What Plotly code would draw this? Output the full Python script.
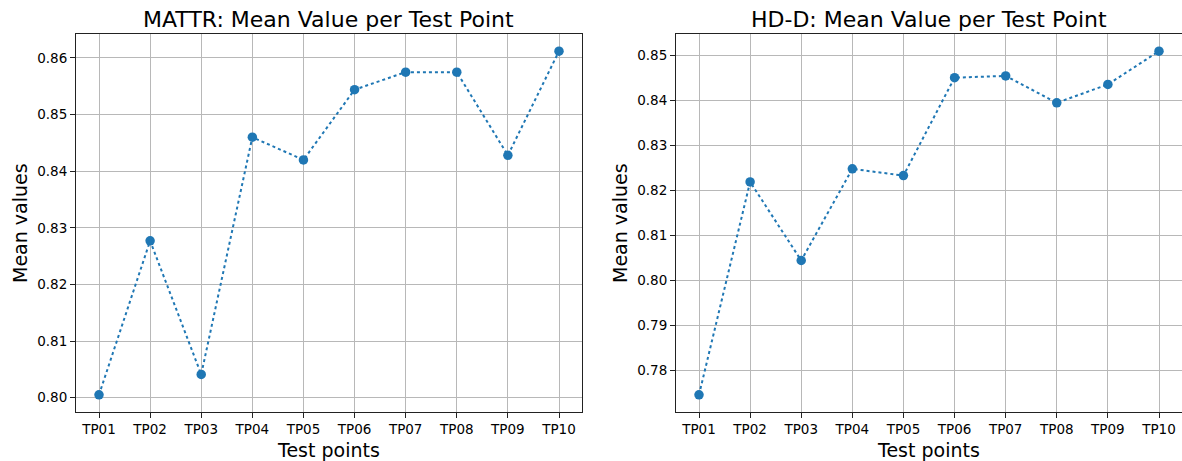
import plotly.graph_objects as go

test_points = ["TP01", "TP02", "TP03", "TP04", "TP05", "TP06", "TP07", "TP08", "TP09", "TP10"]
mattr_values = [0.8005, 0.8277, 0.8041, 0.8460, 0.8420, 0.8544, 0.8575, 0.8575, 0.8428, 0.8612]
hdd_values = [0.7745, 0.8219, 0.8044, 0.8248, 0.8233, 0.8451, 0.8455, 0.8395, 0.8436, 0.8510]
mattr_ticks = [0.80, 0.81, 0.82, 0.83, 0.84, 0.85, 0.86]
hdd_ticks = [0.78, 0.79, 0.80, 0.81, 0.82, 0.83, 0.84, 0.85]

W, H = 1182, 461
color = "#1f77b4"
font = "DejaVu Sans, Verdana, sans-serif"

def rng(vals):
    lo, hi = min(vals), max(vals)
    m = (hi - lo) * 0.05
    return [lo - m, hi + m]

fig = go.Figure()
for i, vals in enumerate([mattr_values, hdd_values]):
    fig.add_trace(go.Scatter(
        x=test_points, y=vals, mode="lines+markers",
        line=dict(color=color, width=2, dash="dot"),
        marker=dict(color=color, size=9.5),
        xaxis="x" if i == 0 else "x2", yaxis="y" if i == 0 else "y2",
        showlegend=False, hoverinfo="x+y",
    ))

ydom = [(H - 412) / H, (H - 34) / H]
xdom1 = [76 / W, 582 / W]
xdom2 = [676 / W, 1.0]

axis_common = dict(
    showline=True, mirror=True, linecolor="#222", linewidth=1,
    showgrid=True, gridcolor="#b8b8b8", gridwidth=1,
    ticks="outside", ticklen=5, tickcolor="#222", tickwidth=1,
    tickfont=dict(family=font, size=13.5, color="black"), zeroline=False,
)

fig.update_layout(
    width=W, height=H, margin=dict(l=0, r=0, t=0, b=0),
    paper_bgcolor="white", plot_bgcolor="white",
    font=dict(family=font, color="black"),
    xaxis=dict(domain=xdom1, anchor="y", type="category", range=[-0.45, 9.45], **axis_common),
    yaxis=dict(domain=ydom, anchor="x", range=rng(mattr_values), tickvals=mattr_ticks,
               tickformat=".2f", **axis_common),
    xaxis2=dict(domain=xdom2, anchor="y2", type="category", range=[-0.45, 9.45], **axis_common),
    yaxis2=dict(domain=ydom, anchor="x2", range=rng(hdd_values), tickvals=hdd_ticks,
                tickformat=".2f", **axis_common),
)

titles = ["MATTR: Mean Value per Test Point", "HD-D: Mean Value per Test Point"]
ylabel_x = [20, 620]
for dom, t, yx in zip([xdom1, xdom2], titles, ylabel_x):
    cx = (dom[0] + dom[1]) / 2
    fig.add_annotation(text=t, x=cx, y=(H - 19) / H, xref="paper", yref="paper",
                       xanchor="center", yanchor="middle", showarrow=False,
                       font=dict(family=font, size=22, color="black"))
    fig.add_annotation(text="Test points", x=cx, y=(H - 450) / H, xref="paper", yref="paper",
                       xanchor="center", yanchor="middle", showarrow=False,
                       font=dict(family=font, size=19, color="black"))
    fig.add_annotation(text="Mean values", x=yx / W, y=(H - 223) / H, xref="paper", yref="paper",
                       xanchor="center", yanchor="middle", showarrow=False, textangle=-90,
                       font=dict(family=font, size=19, color="black"))

fig.write_html("out.html", config={"displayModeBar": False},
               post_script="document.body.style.margin='0';document.body.style.overflow='hidden';")
